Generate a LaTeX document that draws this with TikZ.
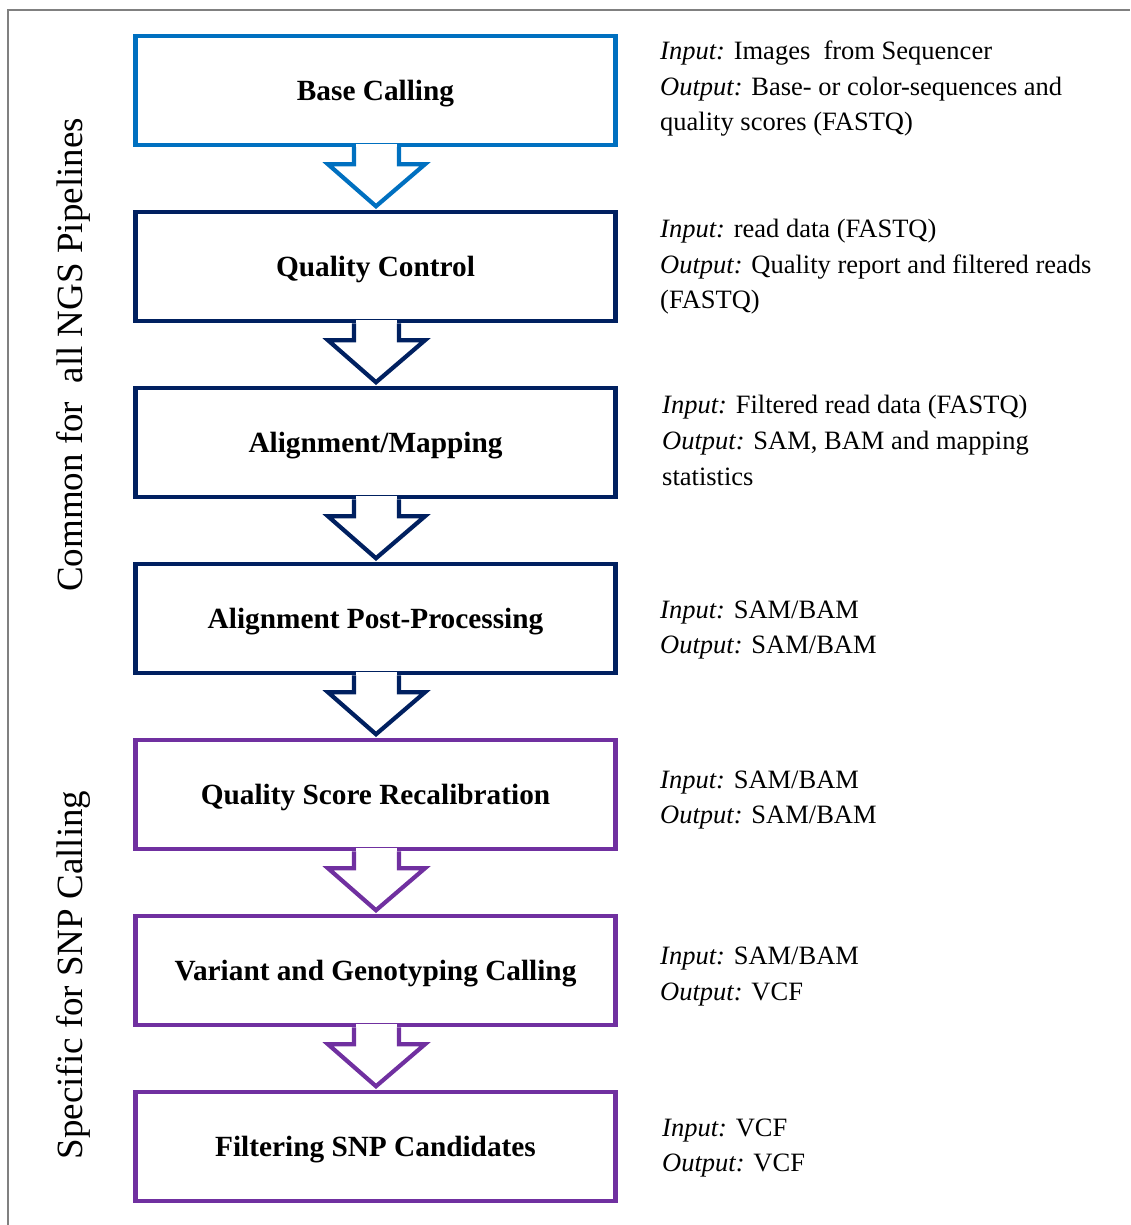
\documentclass[tikz,border=0pt]{standalone}
\usepackage{fontspec}
\setmainfont{Liberation Serif}
\usetikzlibrary{calc}
\definecolor{cblue}{RGB}{0,112,192}
\definecolor{cnavy}{RGB}{0,32,96}
\definecolor{cpurple}{RGB}{112,48,160}
\definecolor{cframe}{RGB}{128,128,128}
\newcommand\infol[4]{\node[info] (#1) at (#2,#3) {#4};}
\newcommand\flowarrow[3]{%
  \fill[white] ($(#1.south)+(-19.5,-3)$) rectangle ($(#1.south)+(21.5,16)$);
  \draw[arr, draw=#3] ($(#1.south)+(-21.5,0)$) -- ++(0,17) -- ++(-26,0)
    -- ($(#2.north)+(0.5,-3.5)$) -- ($(#1.south)+(49.5,17)$) -- ++(-26,0) -- ++(0,-17);}
\begin{document}
\begin{tikzpicture}[x=1pt,y=-1pt,
  stepbox/.style={draw, line width=4.5pt, minimum width=480pt, minimum height=109pt,
    inner sep=0pt, text height=19.5pt, text depth=0pt,
    font=\fontsize{29.3}{34}\selectfont\bfseries, fill=white},
  arr/.style={line width=4.2pt, line join=miter},
  info/.style={anchor=base west, inner sep=0pt, font=\fontsize{26.5}{30}\selectfont},
  side/.style={anchor=base, rotate=90, inner sep=0pt, font=\fontsize{37}{40}\selectfont}]
\useasboundingbox (0,0) rectangle (1130,1225);
\draw[cframe, line width=1.5pt] (8,1225) -- (8,10) -- (1130,10);

\node[stepbox, draw=cblue]   (b1) at (375.5,  90.5) {Base Calling};
\node[stepbox, draw=cnavy]   (b2) at (375.5, 266.5) {Quality Control};
\node[stepbox, draw=cnavy]   (b3) at (375.5, 442.5) {Alignment/Mapping};
\node[stepbox, draw=cnavy]   (b4) at (375.5, 618.5) {Alignment Post-Processing};
\node[stepbox, draw=cpurple] (b5) at (375.5, 794.5) {Quality Score Recalibration};
\node[stepbox, draw=cpurple] (b6) at (375.5, 970.5) {Variant and Genotyping Calling};
\node[stepbox, draw=cpurple] (b7) at (375.5,1146.5) {Filtering SNP Candidates};

\flowarrow{b1}{b2}{cblue}
\flowarrow{b2}{b3}{cnavy}
\flowarrow{b3}{b4}{cnavy}
\flowarrow{b4}{b5}{cnavy}
\flowarrow{b5}{b6}{cpurple}
\flowarrow{b6}{b7}{cpurple}

\node[side] (common) at (82,355) {Common for\ \ all NGS Pipelines};
\node[side] (specific) at (82,975) {Specific for SNP Calling};

\infol{i1a}{660}{60}{\textit{Input:} Images\ \ from Sequencer}
\infol{i1b}{660}{95.5}{\textit{Output:} Base- or color-sequences and}
\infol{i1c}{660}{131}{quality scores (FASTQ)}

\infol{i2a}{660}{237}{\textit{Input:} read data (FASTQ)}
\infol{i2b}{660}{273}{\textit{Output:} Quality report and filtered reads}
\infol{i2c}{660}{308}{(FASTQ)}

\infol{i3a}{662}{413}{\textit{Input:} Filtered read data (FASTQ)}
\infol{i3b}{662}{449}{\textit{Output:} SAM, BAM and mapping}
\infol{i3c}{662}{485}{statistics}

\infol{i4a}{660}{618}{\textit{Input:} SAM/BAM}
\infol{i4b}{660}{653}{\textit{Output:} SAM/BAM}

\infol{i5a}{660}{788}{\textit{Input:} SAM/BAM}
\infol{i5b}{660}{823}{\textit{Output:} SAM/BAM}

\infol{i6a}{660}{964}{\textit{Input:} SAM/BAM}
\infol{i6b}{660}{1000}{\textit{Output:} VCF}

\infol{i7a}{662}{1136}{\textit{Input:} VCF}
\infol{i7b}{662}{1171}{\textit{Output:} VCF}
\end{tikzpicture}
\end{document}
